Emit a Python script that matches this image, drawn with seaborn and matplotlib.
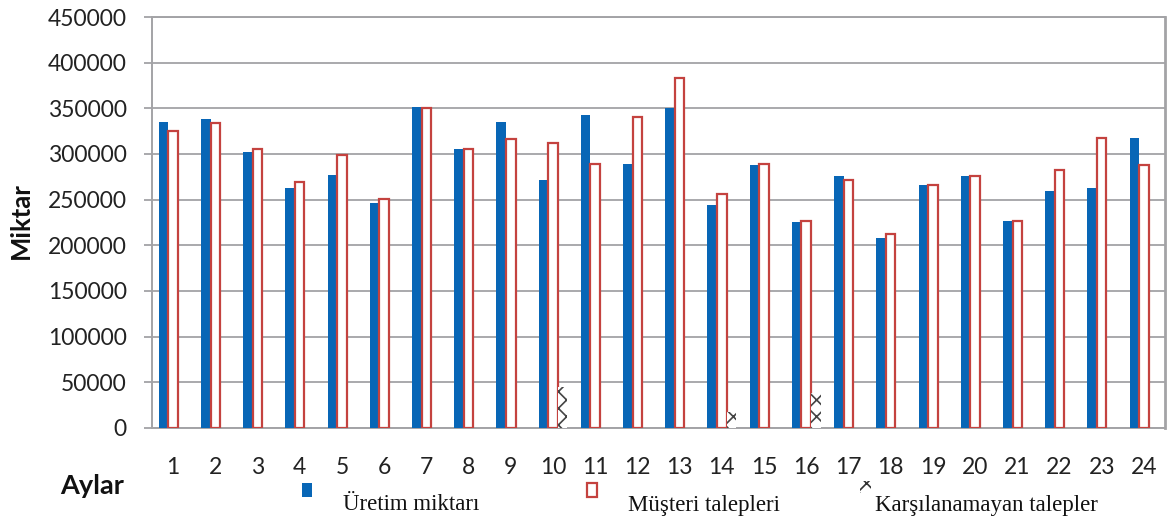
import matplotlib
matplotlib.use("Agg")
import matplotlib.pyplot as plt
from matplotlib.patches import Rectangle
import numpy as np
import pandas as pd
import seaborn as sns

# Monthly production, customer demand and unmet demand
aylar = [str(m) for m in range(1, 25)]
uretim = [335000, 338000, 302000, 263000, 277000, 246000, 351000, 305000,
          335000, 271000, 343000, 289000, 350000, 244000, 288000, 226000,
          276000, 208000, 266000, 276000, 227000, 259000, 263000, 318000]
talepler = [325000, 334000, 306000, 269000, 299000, 251000, 350000, 305000,
            316000, 312000, 289000, 341000, 383000, 256000, 289000, 227000,
            272000, 212000, 266000, 276000, 227000, 282000, 318000, 288000]
karsilanamayan = [0, 0, 0, 0, 0, 0, 0, 0, 0, 45000, 0, 0,
                  0, 18000, 0, 38000, 0, 0, 0, 0, 0, 0, 0, 0]
seriler = ["Üretim miktarı", "Müşteri talepleri", "Karşılanamayan talepler"]
yticks = list(range(0, 450001, 50000))

BLUE = "#0866B6"
RED = "#C4423F"
GRID = "#A3A3A6"

df = pd.DataFrame({
    "Ay": aylar * 3,
    "Miktar": uretim + talepler + karsilanamayan,
    "Seri": [seriler[0]] * 24 + [seriler[1]] * 24 + [seriler[2]] * 24,
})

sns.set_theme(style="white")
plt.rcParams["font.family"] = ["Lato", "DejaVu Sans"]
plt.rcParams["hatch.linewidth"] = 1.2

fig = plt.figure(figsize=(11.69, 5.25), dpi=100)
ax = fig.add_axes([0.130, 0.1848, 0.8666, 0.7828])

sns.barplot(data=df, x="Ay", y="Miktar", hue="Seri", order=aylar,
            hue_order=seriler, palette=[BLUE, "white", "white"],
            saturation=1, width=0.68, dodge=True, legend=False, ax=ax, zorder=3)

# Demand bars: white with red outline; unmet demand: hatched, no outline
for p in ax.containers[0]:
    p.set_edgecolor(BLUE)
    p.set_linewidth(0)
for p in ax.containers[1]:
    p.set_facecolor("white")
    p.set_edgecolor(RED)
    p.set_linewidth(1.6)
for p in ax.containers[2]:
    p.set_facecolor("white")
    p.set_edgecolor("#444444")
    p.set_hatch("xx")
    p.set_linewidth(0)

ax.set_ylim(0, 450000)
ax.set_xlim(-0.5, 23.5)
ax.set_yticks(yticks)
ax.set_yticklabels([str(v) for v in yticks])
ax.yaxis.grid(True, color=GRID, linewidth=1.3, zorder=0)
ax.set_axisbelow(True)

for side in ["left", "right", "top", "bottom"]:
    ax.spines[side].set_color(GRID)
    ax.spines[side].set_linewidth(1.4)
ax.spines["right"].set_linewidth(2.0)

ax.tick_params(axis="y", which="both", left=True, length=6, width=1.3,
               color=GRID, pad=12, labelsize=16.5, labelcolor="#222222")
ax.tick_params(axis="x", which="both", bottom=False, length=0, pad=21,
               labelsize=16.5, labelcolor="#222222")

ax.set_xlabel("Aylar", fontsize=19.5, fontweight="bold", color="#111111",
              ha="center", va="top")
ax.xaxis.set_label_coords(-0.059, -0.112)
ax.set_ylabel("Miktar", fontsize=18.5, fontweight="bold", color="#111111")
ax.yaxis.set_label_coords(-0.118, 0.505)

# Legend row below the axes
W, H = 1169.0, 525.0


def fig_box(x0, y0, w, h):
    return (x0 / W, 1 - (y0 + h) / H, w / W, h / H)


x, y, w, h = fig_box(302, 483, 10, 14)
fig.patches.append(Rectangle((x, y), w, h, transform=fig.transFigure,
                             facecolor=BLUE, edgecolor="none"))
x, y, w, h = fig_box(587, 483, 10, 14)
fig.patches.append(Rectangle((x, y), w, h, transform=fig.transFigure,
                             facecolor="white", edgecolor=RED, linewidth=1.6))
x, y, w, h = fig_box(860, 481, 11, 12)
fig.patches.append(Rectangle((x, y), w, h, transform=fig.transFigure,
                             facecolor="white", edgecolor="#333333",
                             hatch="xx", linewidth=0))

legend_font = dict(family="Liberation Serif", fontsize=16.5, color="#111111",
                   va="center", ha="left")
fig.text(343 / W, 1 - 505 / H, seriler[0], **legend_font)
fig.text(628 / W, 1 - 505 / H, seriler[1], **legend_font)
fig.text(875 / W, 1 - 505 / H, seriler[2], **legend_font)

fig.savefig("out.png", dpi=100)
